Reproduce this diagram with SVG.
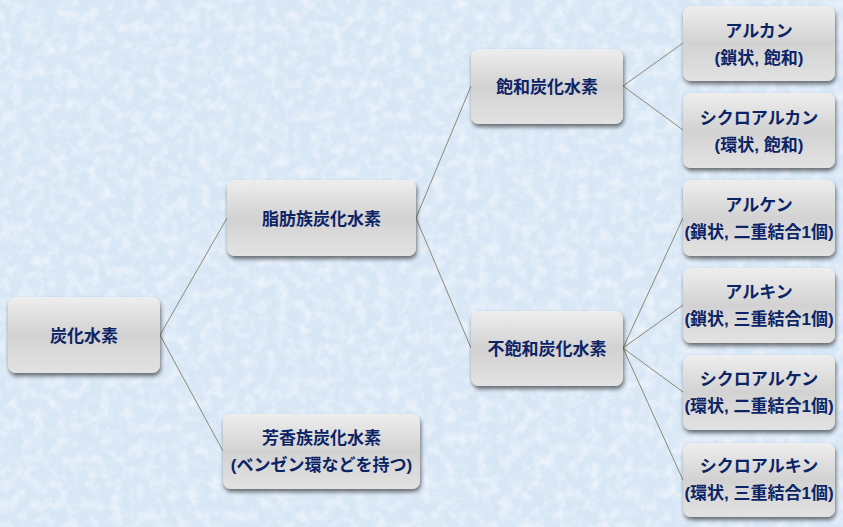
<svg xmlns="http://www.w3.org/2000/svg" width="843" height="527" viewBox="0 0 843 527">
<defs>
<linearGradient id="box" x1="0" y1="0" x2="0" y2="1">
<stop offset="0" stop-color="#eeeeee"/>
<stop offset="0.5" stop-color="#d2d2d2"/>
<stop offset="1" stop-color="#e2e2e2"/>
</linearGradient>
<filter id="shadow" x="-10%" y="-10%" width="120%" height="130%">
<feGaussianBlur in="SourceAlpha" stdDeviation="2"/>
<feOffset dx="1" dy="3" result="b"/>
<feComponentTransfer in="b" result="s"><feFuncA type="linear" slope="0.55"/></feComponentTransfer>
<feMerge><feMergeNode in="s"/><feMergeNode in="SourceGraphic"/></feMerge>
</filter>
<filter id="tex" x="0" y="0" width="100%" height="100%">
<feTurbulence type="fractalNoise" baseFrequency="0.09" numOctaves="3" seed="7"/>
<feColorMatrix type="matrix" values="0 0 0 0 1  0 0 0 0 1  0 0 0 0 1  0 0 0 1.1 -0.45"/>
</filter>
</defs>
<style>
.bx{fill:url(#box);filter:url(#shadow)}
.t{font-family:"Liberation Sans","Noto Sans CJK JP",sans-serif;font-weight:bold;font-size:17px;fill:#0c2466;text-anchor:middle;dominant-baseline:central}
.c line{stroke:#8c8a72;stroke-width:1}
</style>
<rect width="843" height="527" fill="#d8e7f6"/>
<rect width="843" height="527" filter="url(#tex)"/>
<g class="c" id="connectors">
<line x1="160" y1="335" x2="227" y2="218"/>
<line x1="160" y1="335" x2="223" y2="451"/>
<line x1="416" y1="218" x2="471" y2="86"/>
<line x1="416" y1="218" x2="471" y2="348"/>
<line x1="623" y1="86" x2="683" y2="43"/>
<line x1="623" y1="86" x2="683" y2="130"/>
<line x1="623" y1="348" x2="683" y2="218"/>
<line x1="623" y1="348" x2="683" y2="305"/>
<line x1="623" y1="348" x2="683" y2="392"/>
<line x1="623" y1="348" x2="683" y2="480"/>
</g>
<g id="n-root"><rect class="bx" x="8" y="297" width="152" height="76" rx="8"/><text class="t" x="84" y="336">炭化水素</text></g>
<g id="n-aliphatic"><rect class="bx" x="227" y="180" width="189" height="76" rx="8"/><text class="t" x="321.5" y="219">脂肪族炭化水素</text></g>
<g id="n-aromatic"><rect class="bx" x="223" y="414" width="197" height="75" rx="8"/><text class="t" x="321.5" y="438">芳香族炭化水素</text><text class="t" x="321.5" y="465">(ベンゼン環などを持つ)</text></g>
<g id="n-saturated"><rect class="bx" x="471" y="49" width="152" height="75" rx="8"/><text class="t" x="547" y="87">飽和炭化水素</text></g>
<g id="n-unsaturated"><rect class="bx" x="471" y="311" width="152" height="75" rx="8"/><text class="t" x="547" y="349">不飽和炭化水素</text></g>
<g id="n-alkane"><rect class="bx" x="683" y="6" width="152" height="75" rx="8"/><text class="t" x="759" y="31">アルカン</text><text class="t" x="759" y="58">(鎖状, 飽和)</text></g>
<g id="n-cycloalkane"><rect class="bx" x="683" y="93" width="152" height="75" rx="8"/><text class="t" x="759" y="118">シクロアルカン</text><text class="t" x="759" y="145">(環状, 飽和)</text></g>
<g id="n-alkene"><rect class="bx" x="683" y="180" width="152" height="76" rx="8"/><text class="t" x="759" y="205">アルケン</text><text class="t" x="759" y="232">(鎖状, 二重結合1個)</text></g>
<g id="n-alkyne"><rect class="bx" x="683" y="268" width="152" height="75" rx="8"/><text class="t" x="759" y="292">アルキン</text><text class="t" x="759" y="319">(鎖状, 三重結合1個)</text></g>
<g id="n-cycloalkene"><rect class="bx" x="683" y="355" width="152" height="75" rx="8"/><text class="t" x="759" y="379">シクロアルケン</text><text class="t" x="759" y="406">(環状, 二重結合1個)</text></g>
<g id="n-cycloalkyne"><rect class="bx" x="683" y="443" width="152" height="74" rx="8"/><text class="t" x="759" y="466">シクロアルキン</text><text class="t" x="759" y="493">(環状, 三重結合1個)</text></g>
</svg>
